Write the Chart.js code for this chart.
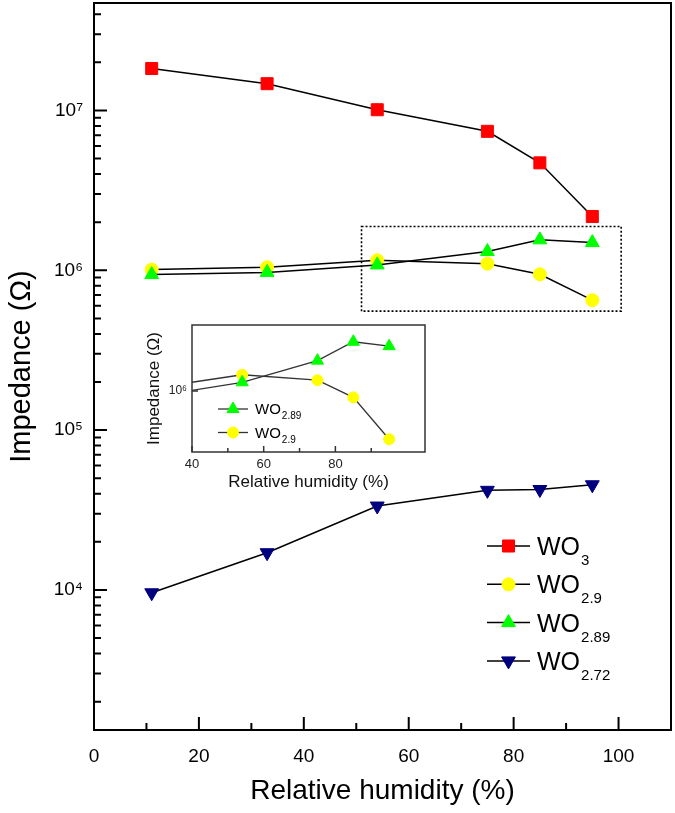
<!DOCTYPE html>
<html>
<head>
<meta charset="utf-8">
<script src="https://cdn.jsdelivr.net/npm/chart.js@4.4.0/dist/chart.umd.min.js"></script>
<style>
    body { margin: 0; background: #fff; }
    #wrap { position: relative; width: 675px; height: 813px; }
    #mainChart { position: absolute; left: 0; top: 0; }
    #insetChart { position: absolute; left: 130px; top: 312px; }
</style>
</head>
<body>
<div id="wrap">
    <canvas id="mainChart" width="675" height="813"></canvas>
    <canvas id="insetChart" width="305" height="185"></canvas>
</div>
<script>
// data
var humidity = [11, 33, 54, 75, 85, 95];
var wo3   = [1.83e7, 1.47e7, 1.01e7, 7.4e6, 4.7e6, 2.17e6];
var wo29  = [1.01e6, 1.045e6, 1.155e6, 1.10e6, 9.44e5, 6.5e5];
var wo289 = [9.4e5, 9.7e5, 1.08e6, 1.31e6, 1.55e6, 1.49e6];
var wo272 = [9.6e3, 1.71e4, 3.35e4, 4.2e4, 4.25e4, 4.55e4];

var seriesNames = ['WO', 'WO', 'WO', 'WO'];
var seriesSubs  = ['3', '2.9', '2.89', '2.72'];

var xTicksMain  = [0, 20, 40, 60, 80, 100];
var xTicksInset = [40, 60, 80, 100];
var yTicksInset = [1e6];

// dotted box marking the zoomed region (data units)
var zoomBoxX = [51, 100.5];
var zoomBoxY = [5.55e5, 1.88e6];

var family = '"Liberation Sans", Arial, sans-serif';
var sup = ['\u2070', '\u00b9', '\u00b2', '\u00b3', '\u2074', '\u2075', '\u2076', '\u2077', '\u2078', '\u2079'];

function pts(arr) {
    return humidity.map(function (x, i) { return { x: x, y: arr[i] }; });
}

function isPow10(v) {
    var l = Math.log10(v);
    return Math.abs(l - Math.round(l)) < 1e-9;
}

function logTicks(min, max) {
    var t = [];
    for (var e = Math.floor(Math.log10(min)); e <= Math.ceil(Math.log10(max)); e++) {
        for (var m = 1; m < 10; m++) {
            var v = m * Math.pow(10, e);
            if (v >= min && v <= max) t.push({ value: v });
        }
    }
    return t;
}

function powLabel(v) {
    if (!isPow10(v)) return '';
    return '10' + sup[Math.round(Math.log10(v))];
}

// no extra room for edge labels, the chart area is pinned by layout padding
function pinX(h) {
    return function (s) { s.height = h; s.paddingLeft = 0; s.paddingRight = 0; };
}
function pinY(w) {
    return function (s) { s.width = w; s.paddingTop = 0; s.paddingBottom = 0; };
}

// frame + inward tick marks
function framePlugin(opt) {
    return {
        id: 'frame',
        afterDatasetsDraw: function (chart) {
            var ctx = chart.ctx, a = chart.chartArea;
            var xs = chart.scales.x, ys = chart.scales.y;
            ctx.save();
            ctx.strokeStyle = opt.color;
            ctx.lineWidth = opt.width;
            ctx.strokeRect(a.left, a.top, a.right - a.left, a.bottom - a.top);
            ctx.beginPath();
            xs.ticks.forEach(function (t) {
                var px = xs.getPixelForValue(t.value);
                if (px >= a.right - 1) return;
                var len = opt.xMajor.indexOf(t.value) >= 0 ? opt.majorLen : opt.minorLen;
                ctx.moveTo(px, a.bottom);
                ctx.lineTo(px, a.bottom - len);
            });
            ys.ticks.forEach(function (t) {
                var py = ys.getPixelForValue(t.value);
                if (py <= a.top + 1 || py >= a.bottom - 1) return;
                var len = isPow10(t.value) ? opt.majorLen : opt.minorLen;
                ctx.moveTo(a.left, py);
                ctx.lineTo(a.left + len, py);
            });
            ctx.stroke();

            if (opt.box) {
                var x0 = xs.getPixelForValue(opt.box.x[0]), x1 = xs.getPixelForValue(opt.box.x[1]);
                var y0 = ys.getPixelForValue(opt.box.y[0]), y1 = ys.getPixelForValue(opt.box.y[1]);
                ctx.setLineDash([2, 2]);
                ctx.lineWidth = 1.6;
                ctx.strokeStyle = '#000';
                ctx.strokeRect(x0, y1, x1 - x0, y0 - y1);
            }
            ctx.restore();
        }
    };
}

// legend with a subscript
function subLegend(cfg) {
    return {
        id: 'subLegend',
        afterDraw: function (chart) {
            var ctx = chart.ctx;
            ctx.save();
            chart.data.datasets.forEach(function (ds, i) {
                var y = cfg.y + cfg.rows[i] * cfg.gap;
                ctx.strokeStyle = cfg.lineColor;
                ctx.lineWidth = cfg.lineWidth;
                ctx.setLineDash([]);
                ctx.beginPath();
                ctx.moveTo(cfg.x, y);
                ctx.lineTo(cfg.x + cfg.len, y);
                ctx.stroke();
                ctx.fillStyle = ds.pointBackgroundColor;
                ctx.strokeStyle = ds.pointBackgroundColor;
                ctx.lineWidth = 1;
                Chart.helpers.drawPoint(ctx, {
                    pointStyle: ds.pointStyle,
                    rotation: ds.pointRotation || 0,
                    radius: ds.pointRadius,
                    borderWidth: 1
                }, cfg.x + cfg.len / 2, y);

                var k = ds.seriesIndex;
                var tx = cfg.x + cfg.len + cfg.textGap;
                var base = y + cfg.size * 0.36;
                ctx.fillStyle = '#000';
                ctx.textAlign = 'left';
                ctx.textBaseline = 'alphabetic';
                ctx.font = cfg.size + 'px ' + family;
                ctx.fillText(seriesNames[k], tx, base);
                var w = ctx.measureText(seriesNames[k]).width;
                ctx.font = cfg.subSize + 'px ' + family;
                ctx.fillText(seriesSubs[k], tx + w + 1, base + cfg.subDrop);
            });
            ctx.restore();
        }
    };
}

function dataset(k, arr, style, color, r, lineColor, lineWidth, rot) {
    return {
        label: seriesNames[k] + seriesSubs[k],
        seriesIndex: k,
        data: pts(arr),
        borderColor: lineColor,
        borderWidth: lineWidth,
        pointStyle: style,
        pointRotation: rot || 0,
        pointRadius: r,
        pointBackgroundColor: color,
        pointBorderColor: color,
        pointBorderWidth: 1,
        tension: 0,
        fill: false
    };
}

var mainChart = new Chart(document.getElementById('mainChart'), {
    type: 'line',
    data: {
        datasets: [
            dataset(0, wo3, 'rect', '#ff0000', 8.5, '#000', 1.5),
            dataset(2, wo289, 'triangle', '#00ff00', 8, '#000', 1.5),
            dataset(1, wo29, 'circle', '#ffff00', 6.5, '#000', 1.5),
            dataset(3, wo272, 'triangle', '#00007f', 8, '#000', 1.5, 180)
        ]
    },
    options: {
        responsive: false,
        animation: false,
        layout: { autoPadding: false, padding: { left: 0, top: 3, right: 4, bottom: 0 } },
        plugins: { legend: { display: false }, tooltip: { enabled: false } },
        scales: {
            x: {
                type: 'linear', min: 0, max: 110,
                grid: { display: false, drawTicks: false },
                border: { display: false },
                ticks: {
                    stepSize: 10, autoSkip: false, maxRotation: 0, padding: 15,
                    color: '#000', font: { family: family, size: 19 },
                    callback: function (v) { return xTicksMain.indexOf(v) >= 0 ? String(v) : ''; }
                },
                title: {
                    display: true, text: 'Relative humidity (%)', color: '#000',
                    font: { family: family, size: 28 }, padding: { top: 0, bottom: 5 }
                },
                afterFit: pinX(83)
            },
            y: {
                type: 'logarithmic', min: 1330, max: 4.7e7,
                grid: { display: false, drawTicks: false },
                border: { display: false },
                afterBuildTicks: function (s) { s.ticks = logTicks(s.min, s.max); },
                ticks: {
                    autoSkip: false, padding: 11, color: '#000',
                    font: { family: family, size: 19 },
                    callback: function (v) { return powLabel(v); }
                },
                title: {
                    display: true, text: 'Impedance (\u03a9)', color: '#000',
                    font: { family: family, size: 29 }, padding: { top: 5, bottom: 0 }
                },
                afterFit: pinY(94)
            }
        }
    },
    plugins: [
        framePlugin({ color: '#000', width: 2, majorLen: 13, minorLen: 7, xMajor: xTicksMain, box: { x: zoomBoxX, y: zoomBoxY } }),
        subLegend({ x: 487, y: 546, gap: 38.3, rows: [0, 2, 1, 3], len: 43, textGap: 7, size: 25, subSize: 15, subDrop: 10, lineColor: '#000', lineWidth: 1.5 })
    ]
});

var insetChart = new Chart(document.getElementById('insetChart'), {
    type: 'line',
    data: {
        datasets: [
            dataset(2, wo289, 'triangle', '#00ff00', 7, '#333', 1.3),
            dataset(1, wo29, 'circle', '#ffff00', 5.5, '#333', 1.3)
        ]
    },
    options: {
        responsive: false,
        animation: false,
        layout: { autoPadding: false, padding: { left: 0, top: 13, right: 10, bottom: 0 } },
        plugins: { legend: { display: false }, tooltip: { enabled: false } },
        scales: {
            x: {
                type: 'linear', min: 40, max: 105,
                grid: { display: false, drawTicks: false },
                border: { display: false },
                ticks: {
                    stepSize: 10, autoSkip: false, maxRotation: 0, padding: 5,
                    color: '#222', font: { family: family, size: 13 },
                    callback: function (v) { return xTicksInset.indexOf(v) >= 0 ? String(v) : ''; }
                },
                title: {
                    display: true, text: 'Relative humidity (%)', color: '#111',
                    font: { family: family, size: 17 }, padding: { top: 0, bottom: 4 }
                },
                afterFit: pinX(45)
            },
            y: {
                type: 'logarithmic', min: 5.8e5, max: 1.8e6,
                grid: { display: false, drawTicks: false },
                border: { display: false },
                afterBuildTicks: function (s) {
                    s.ticks = yTicksInset.map(function (v) { return { value: v }; });
                },
                ticks: {
                    autoSkip: false, padding: 5, color: '#222',
                    font: { family: family, size: 12 },
                    callback: function (v) { return powLabel(v); }
                },
                title: {
                    display: true, text: 'Impedance (\u03a9)', color: '#111',
                    font: { family: family, size: 17 }, padding: { top: 14, bottom: 0 }
                },
                afterFit: pinY(62)
            }
        }
    },
    plugins: [
        framePlugin({ color: '#333', width: 1.5, majorLen: 6, minorLen: 4, xMajor: xTicksInset }),
        subLegend({ x: 88, y: 97, gap: 23.5, rows: [0, 1], len: 30, textGap: 7, size: 15, subSize: 10, subDrop: 5, lineColor: '#333', lineWidth: 1.3 })
    ]
});
</script>
</body>
</html>
